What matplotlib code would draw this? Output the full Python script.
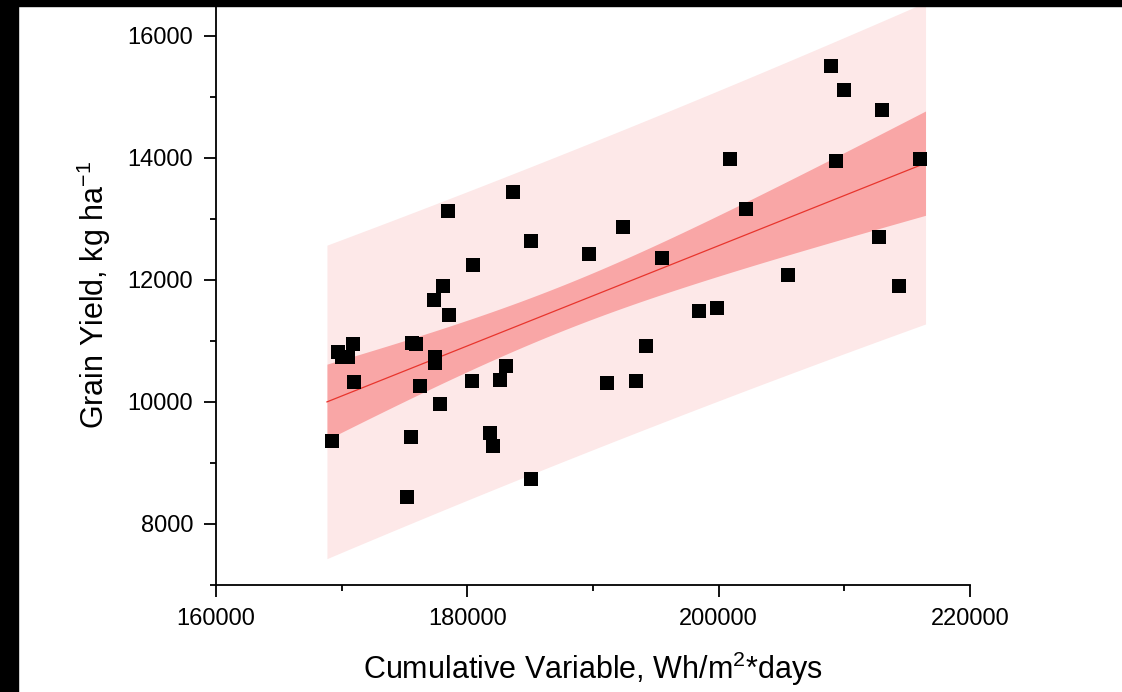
import numpy as np
import matplotlib
matplotlib.use('Agg')
import matplotlib.pyplot as plt
from matplotlib.ticker import MultipleLocator
from matplotlib.patches import Rectangle

plt.rcParams['font.family'] = ['Liberation Sans', 'DejaVu Sans']
plt.rcParams['mathtext.fontset'] = 'custom'
plt.rcParams['mathtext.rm'] = 'Liberation Sans'
plt.rcParams['mathtext.it'] = 'Liberation Sans:italic'

# dados
acumulado = [169230, 169730, 170880, 170520, 170000, 171000, 175170, 175510,
             175590, 175910, 176230, 177420, 177420, 177380, 177820, 178030,
             178480, 178540, 180340, 180480, 181800, 182010, 182590, 183070,
             183630, 185060, 185060, 189700, 191130, 192350, 193410, 194180,
             195460, 198420, 199890, 200940, 202160, 205480, 208920, 209300,
             209960, 212770, 213000, 214360, 216060]
rendimento = [9365, 10813, 10950, 10742, 10731, 10324, 8436, 9431,
              10963, 10955, 10255, 10742, 10636, 11676, 9967, 11894,
              13119, 11422, 10349, 12234, 9485, 9283, 10365, 10586,
              13435, 12635, 8738, 12425, 10304, 12861, 10337, 10911,
              12353, 11485, 11529, 13982, 13151, 12070, 15500, 13938,
              15113, 12697, 14785, 11894, 13982]

x = np.array(acumulado, dtype=float)
y = np.array(rendimento, dtype=float)
n = len(x)

#ajuste linear com bandas de confianca e predicao (95%)
b, a = np.polyfit(x, y, 1)
xs = np.linspace(x.min() - 400, x.max() + 400, 200)
yhat = a + b * xs
s = np.sqrt(np.sum((y - (a + b * x)) ** 2) / (n - 2))
sxx = np.sum((x - x.mean()) ** 2)
t = 2.0167
conf = t * s * np.sqrt(1 / n + (xs - x.mean()) ** 2 / sxx)
pred = t * s * np.sqrt(1 + 1 / n + (xs - x.mean()) ** 2 / sxx)

fig = plt.figure(figsize=(11.22, 6.92), dpi=100)
ax = fig.add_axes([216 / 1122, 107 / 692, 754 / 1122, 580 / 692])

ax.fill_between(xs, yhat - pred, yhat + pred, color='#fde8e8', lw=0, zorder=1)
ax.fill_between(xs, yhat - conf, yhat + conf, color='#f9a6a6', lw=0, zorder=2)
ax.plot(xs, yhat, color='#e8352d', lw=0.9, zorder=3)
ax.scatter(x, y, marker='s', s=90, color='black', lw=0, zorder=4, clip_on=False)

ax.set_xlim(160000, 220000)
ax.set_ylim(7000, 16500)
ax.xaxis.set_major_locator(MultipleLocator(20000))
ax.xaxis.set_minor_locator(MultipleLocator(10000))
ax.yaxis.set_major_locator(MultipleLocator(2000))
ax.yaxis.set_minor_locator(MultipleLocator(1000))

ax.spines['top'].set_visible(False)
ax.spines['right'].set_visible(False)
for sp in ['left', 'bottom']:
    ax.spines[sp].set_linewidth(1.3)
ax.tick_params(which='major', direction='out', length=8.5, width=1.3, labelsize=17, pad=8)
ax.tick_params(which='minor', direction='out', length=4, width=1.3)

ax.set_xlabel('Cumulative Variable, Wh/m$^{2}$*days', fontsize=22, labelpad=14)
ax.set_ylabel('Grain Yield, kg ha$^{-1}$', fontsize=22, labelpad=10)

# bordas pretas do recorte original
fig.patches.append(Rectangle((0, 1 - 6 / 692), 1, 6 / 692, transform=fig.transFigure,
                             color='black', zorder=10))
fig.patches.append(Rectangle((0, 0), 18 / 1122, 1, transform=fig.transFigure,
                             color='black', zorder=10))

fig.savefig('out.png', dpi=100)
